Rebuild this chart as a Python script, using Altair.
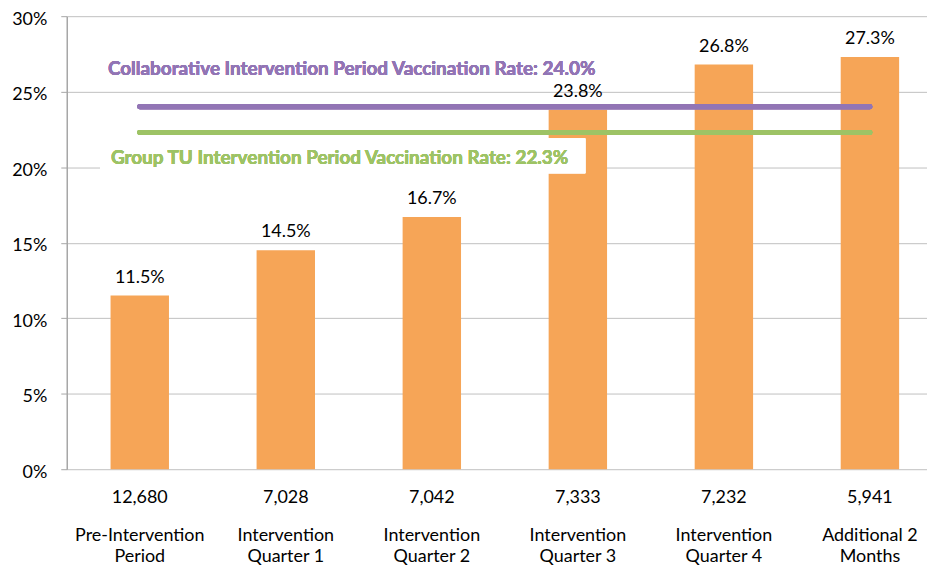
import altair as alt
import pandas as pd

categories = ["Pre-Intervention|Period", "Intervention|Quarter 1", "Intervention|Quarter 2",
              "Intervention|Quarter 3", "Intervention|Quarter 4", "Additional 2|Months"]
counts = ["12,680", "7,028", "7,042", "7,333", "7,232", "5,941"]
rates = [11.5, 14.5, 16.7, 23.8, 26.8, 27.3]
rate_labels = ["11.5%", "14.5%", "16.7%", "23.8%", "26.8%", "27.3%"]

collab_rate = 24.0
collab_text = "Collaborative Intervention Period Vaccination Rate: 24.0%"
group_rate = 22.3
group_text = "Group TU Intervention Period Vaccination Rate: 22.3%"
box_mid = 20.75

FONT = "Lato"
ORANGE = "#F6A557"
PURPLE = "#9275B5"
GREEN = "#9DC365"

df = pd.DataFrame({"key": categories, "rate": rates, "label": rate_labels, "count": counts})

xscale = alt.Scale(domain=categories, range=[0, 880], paddingInner=0.6, paddingOuter=0.3)
x = alt.X("key:N", sort=None, scale=xscale,
          axis=alt.Axis(title=None, ticks=False, domain=False, labelAngle=0,
                        labelExpr="split(datum.label, '|')",
                        labelFont=FONT, labelFontSize=18, labelColor="#000000",
                        labelLineHeight=21, labelPadding=58, labelBaseline="top"))
y = alt.Y("rate:Q", scale=alt.Scale(domain=[0, 30], nice=False),
          axis=alt.Axis(title=None, values=[0, 5, 10, 15, 20, 25, 30],
                        labelExpr="datum.value + '%'", labelFont=FONT, labelFontSize=18,
                        labelColor="#000000", labelPadding=14, labelOffset=3, tickSize=6,
                        tickColor="#A6A6A6", domainColor="#A6A6A6", gridColor="#BFBFBF",
                        tickWidth=1, domainWidth=1.5, gridWidth=1))

bars = alt.Chart(df).mark_bar(color=ORANGE).encode(x=x, y=y)
bar_text = alt.Chart(df).mark_text(font=FONT, fontSize=18, dy=-18, baseline="middle",
                                   color="#000000").encode(x=x, y=y, text="label:N")
count_text = alt.Chart(df).mark_text(font=FONT, fontSize=18, dy=29, baseline="middle",
                                     color="#000000").encode(
    x=x, y=alt.Y(datum=0, type="quantitative"), text="count:N")

first, third, last = categories[0], categories[3], categories[-1]

box = alt.Chart(df).mark_rule(color="white", strokeWidth=35, strokeCap="butt",
                              xOffset=-39.5, x2Offset=7.5).encode(
    x=alt.X(datum=first, type="nominal"), x2=alt.X2(datum=third),
    y=alt.Y(datum=box_mid, type="quantitative"))

purple_line = alt.Chart(df).mark_rule(color=PURPLE, strokeWidth=5, strokeCap="round").encode(
    x=alt.X(datum=first, type="nominal"), x2=alt.X2(datum=last),
    y=alt.Y(datum=collab_rate, type="quantitative"))
green_line = alt.Chart(df).mark_rule(color=GREEN, strokeWidth=5, strokeCap="round").encode(
    x=alt.X(datum=first, type="nominal"), x2=alt.X2(datum=last),
    y=alt.Y(datum=group_rate, type="quantitative"))

purple_text = alt.Chart(df).mark_text(font=FONT, fontSize=19, fontWeight="bold", color=PURPLE,
                                      align="left", baseline="middle", dx=-32, dy=-38).encode(
    x=alt.X(datum=first, type="nominal"), y=alt.Y(datum=collab_rate, type="quantitative"),
    text=alt.value(collab_text))
green_text = alt.Chart(df).mark_text(font=FONT, fontSize=19, fontWeight="bold", color=GREEN,
                                     align="left", baseline="middle", dx=-29, dy=26).encode(
    x=alt.X(datum=first, type="nominal"), y=alt.Y(datum=group_rate, type="quantitative"),
    text=alt.value(group_text))

chart = alt.layer(bars, bar_text, count_text, box, purple_line, green_line,
                  purple_text, green_text).properties(
    width=864, height=455,
    autosize=alt.AutoSizeParams(type="none"),
    padding={"left": 59, "top": 7, "right": 0, "bottom": 100},
    background="white",
).configure_view(stroke=None)

chart.save("out.html", embed_options={"renderer": "svg", "actions": False})
